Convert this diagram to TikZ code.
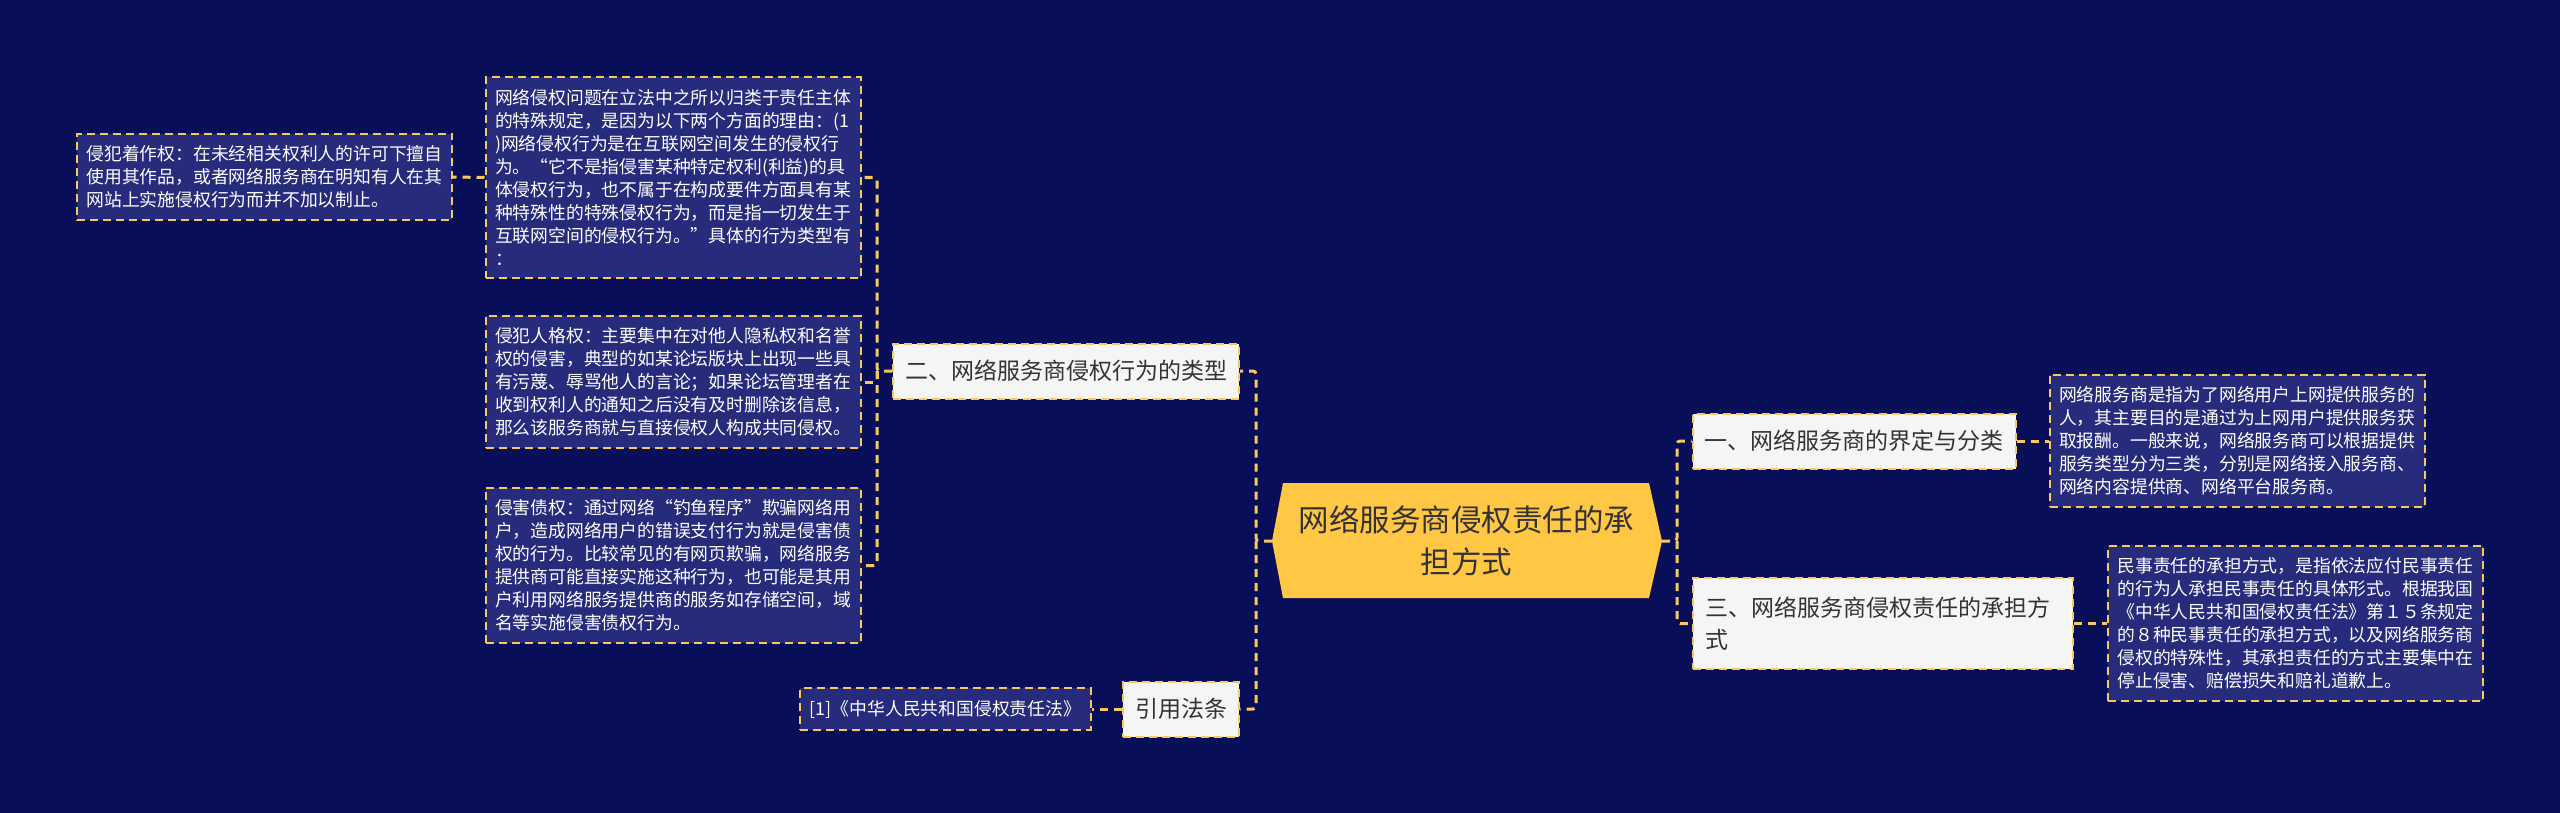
\documentclass[tikz,border=0pt]{standalone}
\usepackage{fontspec}
\setmainfont{Noto Sans CJK SC}
\definecolor{bgc}{RGB}{9,14,89}
\definecolor{leafc}{RGB}{38,44,123}
\definecolor{linec}{RGB}{246,200,95}
\definecolor{lightc}{RGB}{245,245,245}
\definecolor{centc}{RGB}{255,199,68}
\definecolor{darkc}{RGB}{51,51,51}
\tikzset{
  conn/.style={draw=linec, line width=1.5pt, dash pattern=on 4pt off 3pt, rounded corners=1.5pt},
  leafbox/.style={draw=linec, line width=1pt, dash pattern=on 4pt off 2.5pt, fill=leafc, text=white,
    font=\fontsize{8.9pt}{11.5pt}\selectfont, inner xsep=4.75pt, inner ysep=6pt, align=left, text width=178pt},
  topicbox/.style={draw=linec, line width=1pt, dash pattern=on 4pt off 2.5pt, fill=lightc, text=darkc,
    font=\fontsize{11.5pt}{16pt}\selectfont, inner xsep=6pt, inner ysep=0pt, minimum height=27.5pt},
}
\begin{document}
\begin{tikzpicture}[x=0.5pt,y=-0.5pt]
\useasboundingbox (0,0) rectangle (2560,813);
\fill[bgc] (0,0) rectangle (2560,813);

% central topic
\fill[centc] (1283,483) -- (1649,483) -- (1662,541) -- (1649,598) -- (1283,598) -- (1272,541) -- cycle;
\coordinate (cL) at (1272,541);
\coordinate (cR) at (1662,541);
\node[text=darkc, font=\fontsize{15.25pt}{21pt}\selectfont, align=center, text width=172pt, inner sep=0pt] (ctr) at (1466.5,540.5) {网络服务商侵权责任的承\\担方式};

% left branch
\node[topicbox] (n2) at (1066,371) {二、网络服务商侵权行为的类型};
\node[topicbox] (ref) at (1181,709) {引用法条};
\node[leafbox, text width=] (law) at (945.5,709) {[1]《中华人民共和国侵权责任法》};

\node[leafbox] (l1) at (673,177.5) {网络侵权问题在立法中之所以归类于责任主体\\的特殊规定，是因为以下两个方面的理由：(1\\)网络侵权行为是在互联网空间发生的侵权行\\为。“它不是指侵害某种特定权利(利益)的具\\体侵权行为，也不属于在构成要件方面具有某\\种特殊性的特殊侵权行为，而是指一切发生于\\互联网空间的侵权行为。”具体的行为类型有\\：};
\node[leafbox] (kz) at (264.5,177) {侵犯着作权：在未经相关权利人的许可下擅自\\使用其作品，或者网络服务商在明知有人在其\\网站上实施侵权行为而并不加以制止。};
\node[leafbox] (l2) at (673,382) {侵犯人格权：主要集中在对他人隐私权和名誉\\权的侵害，典型的如某论坛版块上出现一些具\\有污蔑、辱骂他人的言论；如果论坛管理者在\\收到权利人的通知之后没有及时删除该信息，\\那么该服务商就与直接侵权人构成共同侵权。};
\node[leafbox] (l3) at (673,565.5) {侵害债权：通过网络“钓鱼程序”欺骗网络用\\户，造成网络用户的错误支付行为就是侵害债\\权的行为。比较常见的有网页欺骗，网络服务\\提供商可能直接实施这种行为，也可能是其用\\户利用网络服务提供商的服务如存储空间，域\\名等实施侵害债权行为。};

% right branch
\node[topicbox] (n1) at (1854,441) {一、网络服务商的界定与分类};
\node[topicbox, align=left, text width=178pt, minimum height=45.5pt] (n3) at (1883,623.5) {三、网络服务商侵权责任的承担方\\式};
\node[leafbox] (lA) at (2237,441) {网络服务商是指为了网络用户上网提供服务的\\人，其主要目的是通过为上网用户提供服务获\\取报酬。一般来说，网络服务商可以根据提供\\服务类型分为三类，分别是网络接入服务商、\\网络内容提供商、网络平台服务商。};
\node[leafbox] (lC) at (2295.5,623.5) {民事责任的承担方式，是指依法应付民事责任\\的行为人承担民事责任的具体形式。根据我国\\《中华人民共和国侵权责任法》第１５条规定\\的８种民事责任的承担方式，以及网络服务商\\侵权的特殊性，其承担责任的方式主要集中在\\停止侵害、赔偿损失和赔礼道歉上。};

% connectors
\coordinate (sL) at (1256,541);
\coordinate (s2) at (877,371);
\coordinate (sR) at (1677,541);
\draw[conn] (cL) -- (sL) |- (n2.east);
\draw[conn] (sL) |- (ref.east);
\draw[conn] (n2.west) -- (s2) |- (l1.east);
\draw[conn] (s2) |- (l2.east);
\draw[conn] (s2) |- (l3.east);
\draw[conn] (l1.west) -- (kz.east);
\draw[conn] (ref.west) -- (law.east);
\draw[conn] (cR) -- (sR) |- (n1.west);
\draw[conn] (sR) |- (n3.west);
\draw[conn] (n1.east) -- (lA.west);
\draw[conn] (n3.east) -- (lC.west);
\end{tikzpicture}
\end{document}
